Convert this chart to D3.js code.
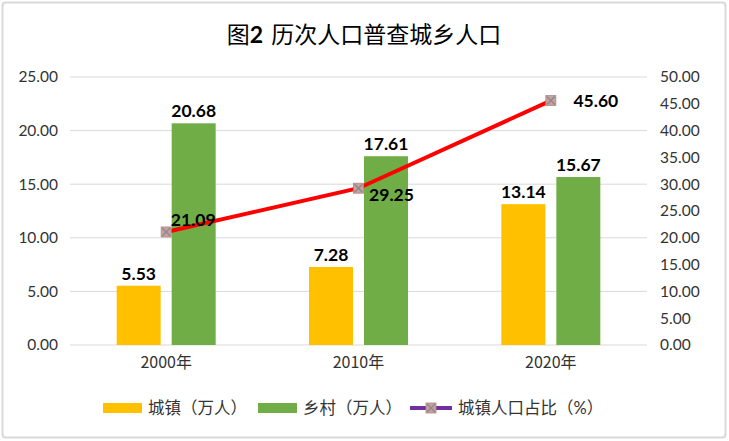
<!DOCTYPE html>
<html><head><meta charset="utf-8">
<script src="https://cdn.jsdelivr.net/npm/d3@7"></script>
<style>
body{margin:0;background:#fff;}
svg{display:block;}
text{font-family:Lato,"Noto Sans CJK SC",sans-serif;}
</style></head>
<body>
<svg id="c" width="729" height="441"></svg>
<script>
const categories = ["2000年","2010年","2020年"];
const urban = [5.53, 7.28, 13.14];
const rural = [20.68, 17.61, 15.67];
const urbanShare = [21.09, 29.25, 45.60];
const leftTicks = [0,5,10,15,20,25];
const rightTicks = [0,5,10,15,20,25,30,35,40,45,50];
const seriesNames = ["城镇（万人）","乡村（万人）","城镇人口占比（%）"];

const svg = d3.select("#c");
const cjk = '"Noto Sans CJK SC",sans-serif';
const num = 'Lato,"Noto Sans CJK SC",sans-serif';

svg.append("rect").attr("x",2.5).attr("y",2.5).attr("width",723).attr("height",435)
  .attr("rx",3).attr("fill","#fff").attr("stroke","#D9D9D9").attr("stroke-width",2);

// title
const title = svg.append("text").attr("x",364).attr("y",43).attr("text-anchor","middle")
  .attr("font-size",23).attr("fill","#000").style("font-family",cjk);
title.append("tspan").text("图");
title.append("tspan").text("2").attr("font-weight","bold").style("font-family",num);
title.append("tspan").attr("dx",8).text("历次人口普查城乡人口");

const L=70, R=647, T=77, B=345;
const x = d3.scaleBand().domain(categories).range([L,R]);
const yL = d3.scaleLinear().domain([0,25]).range([B,T]);
const yR = d3.scaleLinear().domain([0,50]).range([B,T]);

// gridlines
svg.append("g").selectAll("line").data(leftTicks).join("line")
  .attr("x1",L).attr("x2",R).attr("y1",d=>yL(d)).attr("y2",d=>yL(d))
  .attr("stroke","#D9D9D9").attr("stroke-width",1);

// left axis
const gl = svg.append("g").attr("transform",`translate(${L},0)`)
  .call(d3.axisLeft(yL).tickValues(leftTicks).tickFormat(d3.format(".2f")).tickSize(0).tickPadding(12));
gl.select(".domain").remove();
gl.selectAll("text").attr("font-size",15.5).attr("fill","#333").style("font-family",num);

// right axis
const gr = svg.append("g").attr("transform",`translate(${R},0)`)
  .call(d3.axisRight(yR).tickValues(rightTicks).tickFormat(d3.format(".2f")).tickSize(0).tickPadding(13));
gr.select(".domain").remove();
gr.selectAll("text").attr("font-size",15.5).attr("fill","#333").style("font-family",num);

// x axis
const gx = svg.append("g").attr("transform",`translate(0,${B})`)
  .call(d3.axisBottom(x).tickSize(0).tickPadding(12));
gx.select(".domain").remove();
gx.selectAll("text").attr("font-size",16).attr("fill","#333").style("font-family",cjk);

const bw = 44, gap = 11;
const xc = d => x(d) + x.bandwidth()/2;

// bars
svg.append("g").selectAll("rect").data(categories).join("rect")
  .attr("x",d=>xc(d)-gap/2-bw).attr("width",bw)
  .attr("y",(d,i)=>yL(urban[i])).attr("height",(d,i)=>B-yL(urban[i]))
  .attr("fill","#FFC000");
svg.append("g").selectAll("rect").data(categories).join("rect")
  .attr("x",d=>xc(d)+gap/2).attr("width",bw)
  .attr("y",(d,i)=>yL(rural[i])).attr("height",(d,i)=>B-yL(rural[i]))
  .attr("fill","#70AD47");

// bar labels
const lbl = {"font-size":17.5,"font-weight":"bold","fill":"#000"};
function applyLbl(s){ for(const k in lbl) s.attr(k,lbl[k]); s.style("font-family",num); return s; }
applyLbl(svg.append("g").selectAll("text").data(categories).join("text")
  .attr("x",d=>xc(d)-gap/2-bw/2).attr("y",(d,i)=>yL(urban[i])-6)
  .attr("text-anchor","middle").text((d,i)=>urban[i].toFixed(2)));
applyLbl(svg.append("g").selectAll("text").data(categories).join("text")
  .attr("x",d=>xc(d)+gap/2+bw/2).attr("y",(d,i)=>yL(rural[i])-6)
  .attr("text-anchor","middle").text((d,i)=>rural[i].toFixed(2)));

// line
const line = d3.line().x((d,i)=>xc(categories[i])).y(d=>yR(d));
svg.append("path").datum(urbanShare).attr("d",line)
  .attr("fill","none").attr("stroke","#FF0000").attr("stroke-width",4);

function marker(g, cx, cy){
  g.append("rect").attr("x",cx-5).attr("y",cy-5).attr("width",10).attr("height",10)
    .attr("fill","#C9A0A0").attr("stroke","#B08888").attr("stroke-width",0.8);
  g.append("path").attr("d",`M${cx-4},${cy-4}L${cx+4},${cy+4}M${cx+4},${cy-4}L${cx-4},${cy+4}`)
    .attr("stroke","#8C8C8C").attr("stroke-width",1.5);
}
const mg = svg.append("g");
urbanShare.forEach((v,i)=>marker(mg, xc(categories[i]), yR(v)));

// line labels
const offs = [[27,-6],[33,13],[45,6]];
applyLbl(svg.append("g").selectAll("text").data(urbanShare).join("text")
  .attr("x",(d,i)=>xc(categories[i])+offs[i][0]).attr("y",(d,i)=>yR(d)+offs[i][1])
  .attr("text-anchor","middle").text(d=>d.toFixed(2)));

// legend
const lg = svg.append("g").style("font-family",cjk);
const ly = 408;
lg.append("rect").attr("x",103).attr("y",ly-5).attr("width",39).attr("height",10).attr("fill","#FFC000");
lg.append("text").attr("x",148).attr("y",ly+6).attr("font-size",16.5).attr("fill","#333").text(seriesNames[0]);
lg.append("rect").attr("x",258).attr("y",ly-5).attr("width",39).attr("height",10).attr("fill","#70AD47");
lg.append("text").attr("x",303).attr("y",ly+6).attr("font-size",16.5).attr("fill","#333").text(seriesNames[1]);
lg.append("line").attr("x1",410).attr("x2",452).attr("y1",ly).attr("y2",ly).attr("stroke","#7030A0").attr("stroke-width",4);
marker(lg, 431, ly);
lg.append("text").attr("x",458).attr("y",ly+6).attr("font-size",16.5).attr("fill","#333").text(seriesNames[2]);
</script>
</body></html>
